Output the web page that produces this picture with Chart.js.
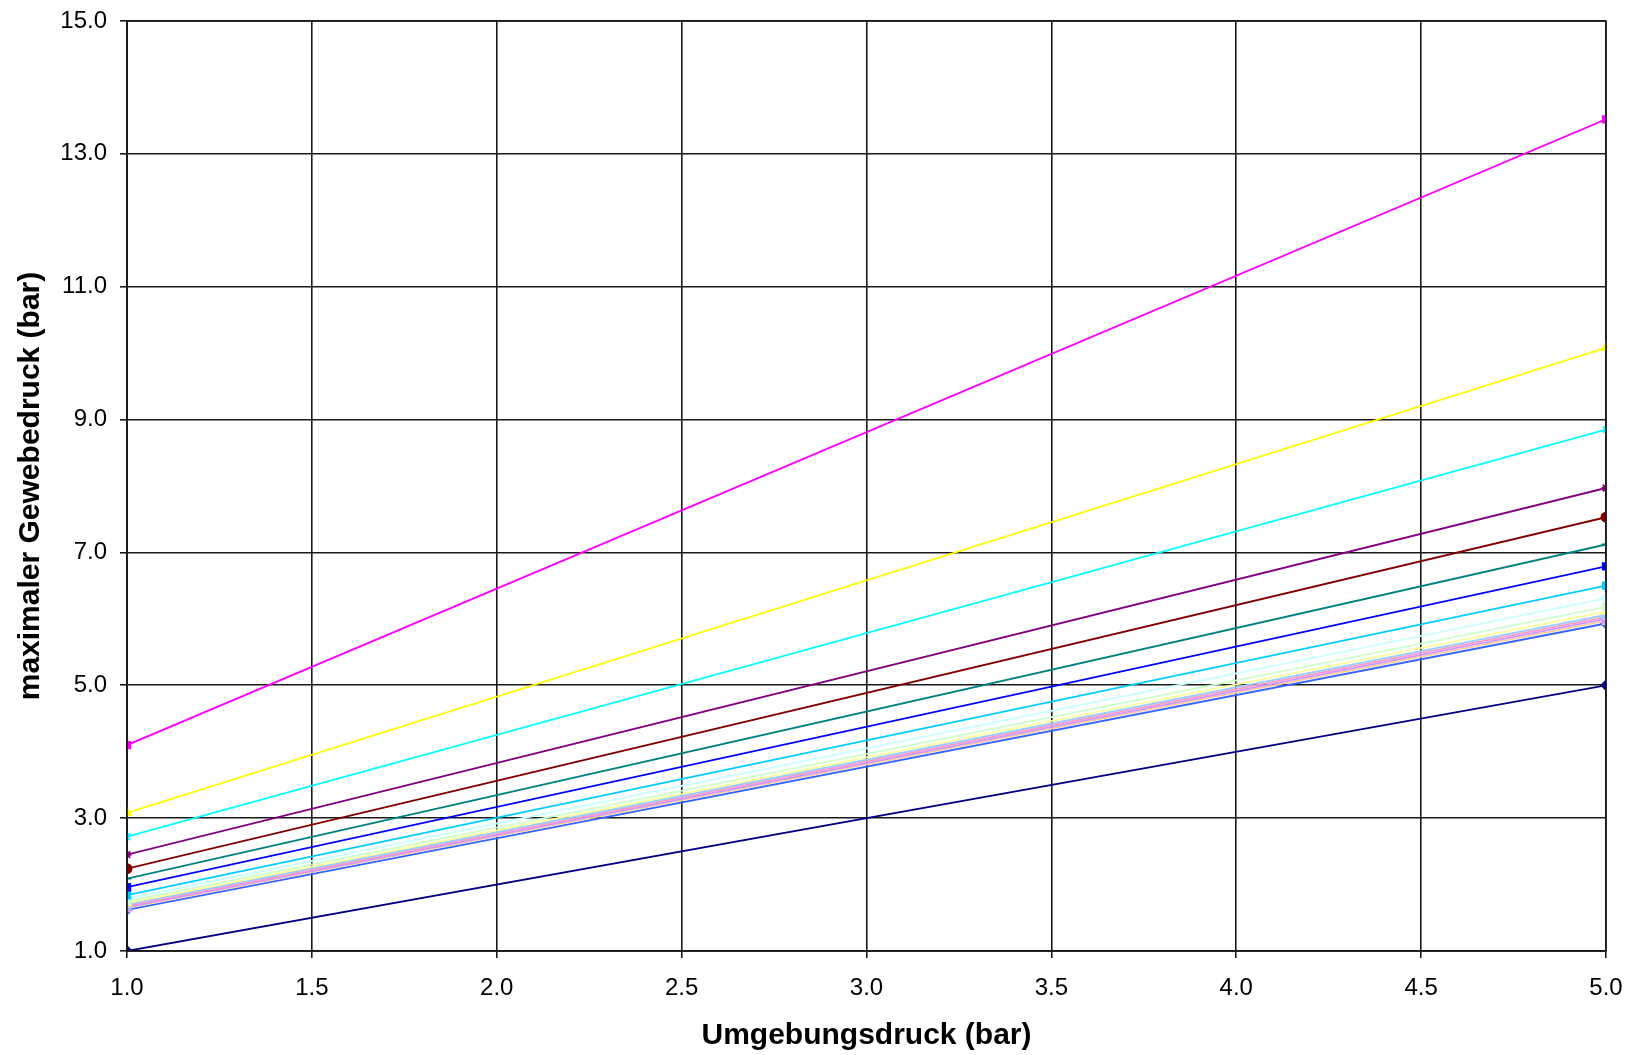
<!DOCTYPE html>
<html>
<head>
  <title>maximaler Gewebedruck</title>
  <script src="https://cdn.jsdelivr.net/npm/chart.js"></script>
  <style>
    html, body {
      margin: 0;
      padding: 0;
      background: #fff;
    }
    #wrap {
      width: 1640px;
      height: 1055px;
    }
  </style>
</head>
<body>
  <div id="wrap"><canvas id="druckChart" width="1640" height="1055"></canvas></div>

  <script>
    // Umgebungsdruck (bar) - start and end of each line
    const xValues = [1.0, 5.0];

    const seriesNames = [
      'Reihe1', 'Reihe2', 'Reihe3', 'Reihe4', 'Reihe5', 'Reihe6', 'Reihe7', 'Reihe8',
      'Reihe9', 'Reihe10', 'Reihe11', 'Reihe12', 'Reihe13', 'Reihe14', 'Reihe15', 'Reihe16', 'Reihe17'
    ];

    // maximaler Gewebedruck (bar) at x = 1.0 and x = 5.0
    const seriesValues = [
      [1.00, 5.00],
      [4.10, 13.52],
      [3.08, 10.08],
      [2.72, 8.85],
      [2.45, 7.97],
      [2.24, 7.53],
      [2.09, 7.12],
      [1.96, 6.79],
      [1.84, 6.50],
      [1.79, 6.31],
      [1.75, 6.18],
      [1.72, 6.11],
      [1.70, 6.06],
      [1.68, 6.03],
      [1.66, 6.00],
      [1.65, 5.97],
      [1.62, 5.93]
    ];

    const xTicks = [1.0, 1.5, 2.0, 2.5, 3.0, 3.5, 4.0, 4.5, 5.0];
    const yTicks = [1.0, 3.0, 5.0, 7.0, 9.0, 11.0, 13.0, 15.0];

    // old Excel palette, in series order
    const colors = [
      '#000080', '#ff00ff', '#ffff00', '#00ffff', '#800080', '#800000', '#008080', '#0000ff',
      '#00ccff', '#ccffff', '#ccffcc', '#ffff99', '#99ccff', '#ff99cc', '#cc99ff', '#ffcc99', '#3366ff'
    ];
    const markers = [
      'rectRot', 'rect', 'triangle', 'crossRot', 'star', 'circle', 'cross', 'rect',
      'rect', 'rectRot', 'rect', 'triangle', 'circle', 'rectRot', 'circle', 'rect', 'rectRot'
    ];

    const datasets = seriesValues.map((vals, i) => ({
      label: seriesNames[i],
      data: vals.map((v, j) => ({ x: xValues[j], y: v })),
      borderColor: colors[i],
      backgroundColor: colors[i],
      borderWidth: 1.8,
      pointStyle: markers[i],
      pointRadius: 4.5,
      pointBorderWidth: 2,
      pointHoverRadius: 4.5
    }));

    const tickFont = { family: 'Liberation Sans, Arial, sans-serif', size: 24 };
    const titleFont = { family: 'Liberation Sans, Arial, sans-serif', size: 30, weight: 'bold' };
    const gridStyle = { color: '#1a1a1a', lineWidth: 1.6, tickLength: 7, tickColor: '#1a1a1a', tickWidth: 1.6 };

    const ctx = document.getElementById('druckChart').getContext('2d');
    new Chart(ctx, {
      type: 'line',
      data: { datasets: datasets },
      options: {
        responsive: false,
        animation: false,
        layout: { padding: { left: 0, top: 21, right: 34, bottom: 0 } },
        plugins: {
          legend: { display: false },
          tooltip: { enabled: false }
        },
        scales: {
          x: {
            type: 'linear',
            min: 1, max: 5,
            afterBuildTicks: s => { s.ticks = xTicks.map(v => ({ value: v })); },
            afterFit: s => { s.height = 104; s.paddingLeft = 0; s.paddingRight = 0; },
            grid: gridStyle,
            border: { color: '#1a1a1a', width: 1.6 },
            ticks: {
              color: '#000', font: tickFont, padding: 16, maxRotation: 0,
              callback: v => Number(v).toFixed(1)
            },
            title: {
              display: true, text: 'Umgebungsdruck (bar)', color: '#000', font: titleFont,
              padding: { top: 0, bottom: 1 }
            }
          },
          y: {
            type: 'linear',
            min: 1, max: 15,
            afterBuildTicks: s => { s.ticks = yTicks.map(v => ({ value: v })); },
            afterFit: s => { s.width = 127; s.paddingTop = 0; s.paddingBottom = 0; },
            grid: gridStyle,
            border: { color: '#1a1a1a', width: 1.6 },
            ticks: {
              color: '#000', font: tickFont, padding: 13,
              callback: v => Number(v).toFixed(1)
            },
            title: {
              display: true, text: 'maximaler Gewebedruck (bar)', color: '#000', font: titleFont,
              padding: { top: 13, bottom: 0 }
            }
          }
        }
      },
      plugins: [{
        // right and top edge of the plot frame
        id: 'frame',
        afterDraw(chart) {
          const a = chart.chartArea, c = chart.ctx;
          c.save();
          c.strokeStyle = '#1a1a1a';
          c.lineWidth = 1.6;
          c.strokeRect(a.left, a.top, a.right - a.left, a.bottom - a.top);
          c.restore();
        }
      }]
    });
  </script>
</body>
</html>
